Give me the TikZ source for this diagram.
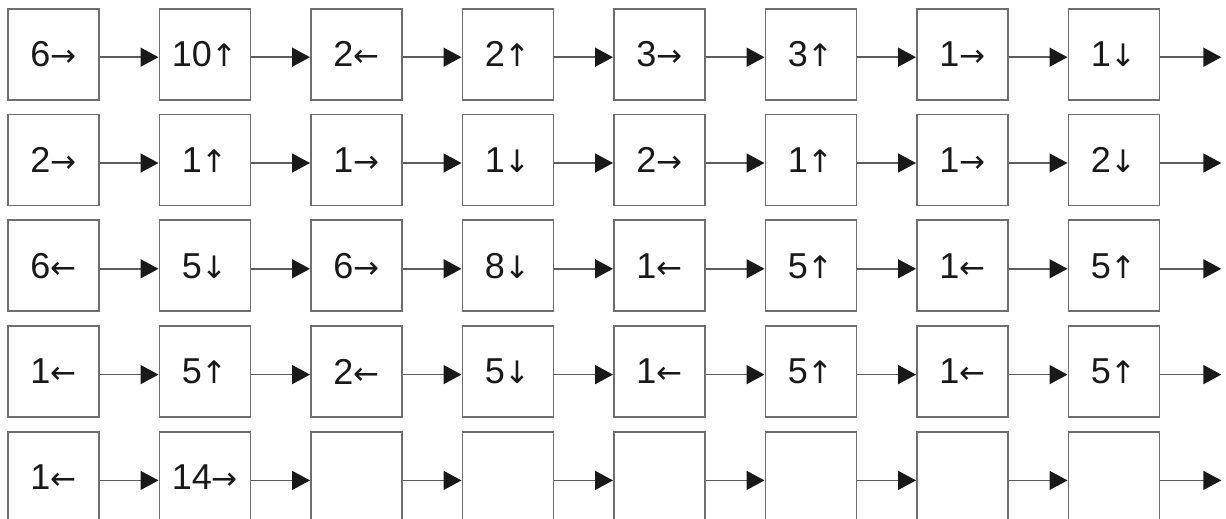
\documentclass[tikz,border=0pt]{standalone}
\usepackage{fontspec}
\setmainfont{Liberation Sans}
\newfontfamily\arrowfont{DejaVu Sans}
\usetikzlibrary{arrows.meta,positioning}
\definecolor{boxgray}{HTML}{6E6E6E}
\definecolor{linegray}{HTML}{5C5C5C}
\newcommand{\mv}[2]{#1{\arrowfont\fontsize{31}{36}\selectfont #2}}

\begin{document}
\begin{tikzpicture}[
    x=1pt, y=-1pt,
    cell/.style={draw=boxgray, line width=1.8pt, inner sep=0pt,
                 minimum width=91pt, minimum height=91pt,
                 font=\fontsize{36}{40}\selectfont, text=black!90},
    arr/.style={draw=linegray, line width=1.6pt,
                -{Triangle[length=18pt, width=19pt, color=black!90]}}
]
\useasboundingbox (0,0) rectangle (1226,519);

% boxes, one row of moves per line
\foreach \row [count=\j from 0] in {
    {\mv{6}{→},\mv{10}{↑},\mv{2}{←},\mv{2}{↑},\mv{3}{→},\mv{3}{↑},\mv{1}{→},\mv{1}{↓}},
    {\mv{2}{→},\mv{1}{↑},\mv{1}{→},\mv{1}{↓},\mv{2}{→},\mv{1}{↑},\mv{1}{→},\mv{2}{↓}},
    {\mv{6}{←},\mv{5}{↓},\mv{6}{→},\mv{8}{↓},\mv{1}{←},\mv{5}{↑},\mv{1}{←},\mv{5}{↑}},
    {\mv{1}{←},\mv{5}{↑},\mv{2}{←},\mv{5}{↓},\mv{1}{←},\mv{5}{↑},\mv{1}{←},\mv{5}{↑}},
    {\mv{1}{←},\mv{14}{→},{},{},{},{},{},{}}} {
  \foreach \lbl [count=\i from 0] in \row {
    \node[cell] (c-\j-\i) at (53.4+151.5*\i, 54.2+105.8*\j) {\lbl};
  }
}

% links between boxes
\foreach \j in {0,...,4} {
  \foreach \i [evaluate=\i as \k using int(\i+1)] in {0,...,6} {
    \draw[arr] ([yshift=-3pt]c-\j-\i.east) -- ([yshift=-3pt]c-\j-\k.west);
  }
  \coordinate[right=61pt of c-\j-7.east] (out-\j);
  \draw[arr] ([yshift=-3pt]c-\j-7.east) -- ([yshift=-3pt]out-\j);
}

\end{tikzpicture}
\end{document}
